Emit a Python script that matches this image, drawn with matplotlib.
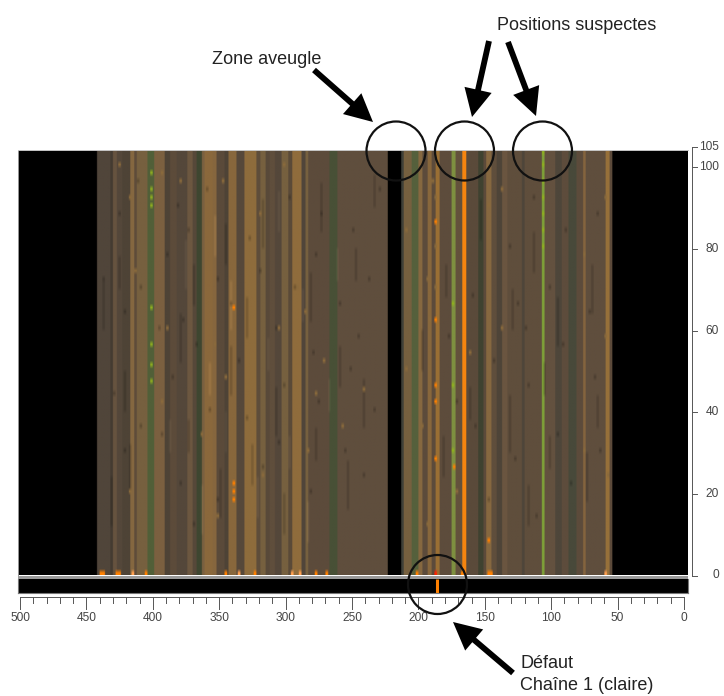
import numpy as np
from matplotlib import pyplot as plt
from matplotlib.colors import to_rgb
from matplotlib.patches import Circle, Rectangle

plt.rcParams['font.family'] = ['Liberation Sans', 'DejaVu Sans']

W, H = 724, 696

# stripes of the scan, from position 502 down to -4 (one colour per interval)
stripe_edges = [502, 442, 432, 430, 427, 423, 417, 414, 412, 404, 399, 391, 387, 382, 374, 370,
                367, 363, 361, 355, 352, 346, 343, 337, 331, 322, 319, 315, 312, 308, 303, 298,
                295, 288, 285, 283, 267, 261, 223, 213, 211, 205, 200, 197, 193, 190, 187, 184,
                175, 172, 167, 164, 155, 151, 149, 145, 141, 137, 133, 122, 120, 107, 105, 97,
                92, 87, 81, 76, 74, 59, 56, 54, -4]
stripe_colors = ['#000000', '#50453a', '#443b31', '#66533f', '#54473a', '#4e4336', '#846740', '#5e4c3a',
                 '#76603f', '#515f38', '#7b6040', '#4e4336', '#5c4b3a', '#54473a', '#6c5740', '#564839',
                 '#3e4630', '#7a6040', '#8a683c', '#86663e', '#5a4a3a', '#4e4336', '#88673c', '#56483a',
                 '#8e6c3c', '#5e4d3a', '#76603f', '#584939', '#5f4e3c', '#54473a', '#76603f', '#5a4a38',
                 '#8f6c3c', '#50453a', '#76603f', '#5c4b3b', '#485036', '#5f4e3d', '#000000', '#3f4038',
                 '#76603f', '#55603c', '#866840', '#5c4b3b', '#88673c', '#5c4b3b', '#9a6f34', '#5d4c3c',
                 '#7e9040', '#63513c', '#f58510', '#5a4a3a', '#3f4230', '#5c4a3a', '#866840', '#5f4e3c',
                 '#4e4438', '#6a5540', '#5f4e3c', '#4e453a', '#5f4e3c', '#7ea038', '#63513f', '#4e463a',
                 '#5d4c3c', '#48493a', '#5c4b3b', '#84643e', '#5f4e3d', '#96703a', '#5c4a3a', '#000000']

# isolated cells
dark_x = [436, 428, 424, 420, 420, 410, 408, 408, 394, 392, 388, 384, 380, 378, 376, 372, 368, 366,
          358, 356, 350, 350, 340, 334, 328, 326, 318, 316, 306, 304, 300, 296, 292, 280, 278, 276,
          274, 272, 258, 254, 250, 248, 244, 240, 236, 232, 228, 158, 156, 142, 130, 126, 118, 116,
          112, 110, 100, 94, 90, 88, 84, 70, 66, 64, 62, 216, 176, 170, 146, 124]
dark_y = [72, 44, 88, 30, 64, 96, 70, 36, 60, 34, 78, 48, 90, 22, 62, 84, 12, 56, 94, 40, 72, 18,
          66, 52, 38, 82, 74, 26, 60, 32, 46, 92, 70, 20, 54, 78, 42, 88, 66, 30, 50, 84, 58, 24,
          72, 40, 94, 68, 36, 52, 80, 28, 60, 46, 92, 14, 70, 34, 56, 84, 22, 64, 48, 88, 30, 76, 58, 42, 18, 66]
tan_x = [424, 416, 416, 412, 392, 392, 388, 378, 362, 358, 352, 350, 346, 344, 318, 316, 304, 300,
         290, 284, 282, 276, 270, 256, 240, 208, 196, 192, 190, 188, 186, 186, 186, 170, 160, 146,
         136, 136, 74, 74, 58, 58, 56, 208, 192]
tan_y = [100, 92, 20, 74, 98, 42, 60, 96, 34, 90, 56, 14, 96, 48, 88, 24, 60, 100, 70, 64, 30, 44,
         52, 36, 45, 84, 36, 72, 62, 96, 92, 80, 70, 20, 54, 90, 94, 60, 30, 78, 92, 58, 24, 50, 12]
orange_x = [338, 338, 338, 338, 186, 186, 186, 186, 186, 172, 146,
            438, 436, 426, 424, 404, 344, 322, 276, 268, 200, 166, 146, 144]
orange_y = [65, 22, 20, 18, 86, 62, 46, 42, 28, 26, 8,
            0, 0, 0, 0, 0, 0, 0, 0, 0, 0, 0, 0, 0]
bright_x = [414, 334, 294, 288, 58]
bright_y = [0, 0, 0, 0, 0]
lime_x = [400, 400, 400, 400, 400, 400, 400, 400, 105, 105, 105, 105, 105, 105, 105, 173, 173, 173]
lime_y = [98, 94, 92, 90, 65, 56, 51, 47, 103, 100, 96, 92, 88, 84, 80, 66, 46, 30]
red_x = [186]
red_y = [0]

# darker and lighter dashes running along the stripes
dash_x = [436, 430, 424, 420, 416, 378, 372, 368, 348, 344, 340, 328, 324, 316, 306, 300, 280, 276, 272,
          258, 252, 246, 240, 232, 196, 180, 178, 160, 152, 130, 128, 116, 112, 104, 100, 94, 72, 68, 64]
dash_y0 = [60, 12, 70, 40, 20, 52, 30, 66, 14, 76, 44, 58, 22, 80, 34, 10, 62, 28, 84,
           46, 16, 72, 36, 90, 50, 24, 68, 38, 82, 30, 60, 12, 74, 44, 26, 56, 18, 64, 36]
dash_y1 = [72, 24, 78, 50, 32, 64, 38, 76, 26, 86, 56, 68, 32, 92, 46, 20, 74, 36, 96,
           56, 28, 80, 48, 98, 60, 34, 76, 46, 92, 44, 70, 22, 84, 52, 34, 68, 30, 76, 44]
light_x = [386, 374, 362, 356, 352, 344, 340, 320, 312, 304, 296, 286, 282, 266, 260]
light_y0 = [30, 70, 10, 44, 78, 30, 60, 14, 50, 84, 26, 62, 8, 40, 72]
light_y1 = [38, 82, 22, 52, 88, 40, 72, 24, 58, 94, 34, 70, 18, 48, 80]

# defect strip (chain 1)
defect_x = [186]

xticks_major = [500, 450, 400, 350, 300, 250, 200, 150, 100, 50, 0]
yticks = [105, 100, 80, 60, 40, 20, 0]

n_rows = 105
n_cols = 506
grid = np.zeros((n_rows, n_cols, 3))
for i in range(len(stripe_colors)):
    grid[:, 502 - stripe_edges[i]:502 - stripe_edges[i + 1]] = to_rgb(stripe_colors[i])


def paint(xs, ys, color):
    for x, y in zip(xs, ys):
        cell = grid[y, 500 - x:502 - x]
        if cell.sum() > 0:
            cell[:] = to_rgb(color)


def shade(xs, y0s, y1s, factor):
    for x, y0, y1 in zip(xs, y0s, y1s):
        grid[y0:y1, 500 - x:502 - x] *= factor


shade(dash_x, dash_y0, dash_y1, 0.87)
shade(light_x, light_y0, light_y1, 1.1)
shade(dark_x, dark_y, [y + 1 for y in dark_y], 0.8)
paint(tan_x, tan_y, '#8a6a3c')
paint(orange_x, orange_y, '#ff8000')
paint(bright_x, bright_y, '#ffa050')
paint(lime_x, lime_y, '#8fb020')
paint(red_x, red_y, '#ff2000')


def axes_px(left, top, width, height):
    return fig.add_axes([left / W, 1 - (top + height) / H, width / W, height / H])


fig = plt.figure(figsize=(W / 100, H / 100), dpi=100, facecolor='white')

# main scan
ax = axes_px(18, 150, 670, 426)
ax.imshow(np.clip(grid, 0, 1), origin='lower', extent=(502, -4, 0, 105), aspect='auto', interpolation='bilinear')
ax.set_xlim(501.5, -3)
ax.set_ylim(-0.2, 104.3)
ax.set_xticks([])
ax.set_yticks([])
for s in ax.spines.values():
    s.set_visible(False)
ax.spines['left'].set_visible(True)
ax.spines['left'].set_color('#999999')
ax.spines['left'].set_linewidth(0.7)
ax.spines['top'].set_visible(True)
ax.spines['top'].set_color('#c8c8c8')
ax.spines['top'].set_linewidth(0.7)

# strip under the scan
ax2 = axes_px(18, 579, 670, 14)
ax2.set_facecolor('black')
ax2.set_xlim(501.5, -3)
ax2.set_ylim(0, 1)
ax2.vlines(defect_x, 0, 1, color='#ff8000', lw=2.2)
ax2.set_xticks([])
ax2.set_yticks([])
for s in ax2.spines.values():
    s.set_color('#777777')
    s.set_linewidth(0.8)
ax2.spines['top'].set_visible(False)

# x ruler
ax3 = axes_px(18, 597, 670, 12)
ax3.patch.set_alpha(0)
ax3.set_xlim(501.5, -3)
ax3.set_ylim(0, 1)
ax3.set_xticks([])
ax3.set_yticks([])
for name in ['left', 'right', 'bottom']:
    ax3.spines[name].set_visible(False)
ax3.spines['top'].set_bounds(500, 0)
ax3.spines['top'].set_color('#555555')
ax3.spines['top'].set_linewidth(0.7)
for t in xticks_major:
    ax3.plot([t, t], [1, 0], color='#555555', lw=0.7, clip_on=False)
    ax3.text(t, -0.25, str(t), ha='center', va='top', fontsize=8.6, color='#444444', clip_on=False)
for t in np.arange(0, 501, 10):
    if t % 50:
        ax3.plot([t, t], [1, 0.5], color='#555555', lw=0.7)

# y ruler
ax4 = axes_px(692, 147, 5, 428.5)
ax4.patch.set_alpha(0)
ax4.set_ylim(0, 105)
ax4.set_xlim(0, 1)
ax4.set_xticks([])
ax4.set_yticks([])
for name in ['top', 'right', 'bottom']:
    ax4.spines[name].set_visible(False)
ax4.spines['left'].set_color('#555555')
ax4.spines['left'].set_linewidth(0.7)
for t in yticks:
    ax4.plot([0, 1], [t, t], color='#555555', lw=0.7, clip_on=False)
    ax4.text(5.4, t, str(t), ha='right', va='center', fontsize=8.6, color='#444444', clip_on=False)

# annotations, in picture pixels
over = fig.add_axes([0, 0, 1, 1])
over.set_xlim(0, W)
over.set_ylim(H, 0)
over.axis('off')
over.patch.set_alpha(0)
over.add_patch(Rectangle((18, 576), 670, 3, fc='#999999', ec='none', zorder=1))
for cx, cy in [(396, 151), (464.5, 151), (542.5, 151), (437.5, 584.5)]:
    over.add_patch(Circle((cx, cy), 29.5, fill=False, ec='#111111', lw=1.6, zorder=3))

for tail, tip in [((314, 70), (373, 122)), ((489, 41), (472, 117)),
                  ((508, 42), (536, 116)), ((513, 673), (453, 622))]:
    over.annotate('', xy=tip, xytext=tail,
                  arrowprops=dict(facecolor='black', edgecolor='black', lw=0,
                                  width=4.2, headwidth=20, headlength=20, shrink=0))

over.text(497, 25, 'Positions suspectes', fontsize=13, color='#222222', va='center', ha='left')
over.text(212, 60, 'Zone aveugle', fontsize=13, color='#222222', va='center', ha='left')
over.text(520, 664, 'Défaut', fontsize=13, color='#222222', va='center', ha='left')
over.text(520, 686, 'Chaîne 1 (claire)', fontsize=13, color='#222222', va='center', ha='left')

fig.savefig('out.png', dpi=100)
